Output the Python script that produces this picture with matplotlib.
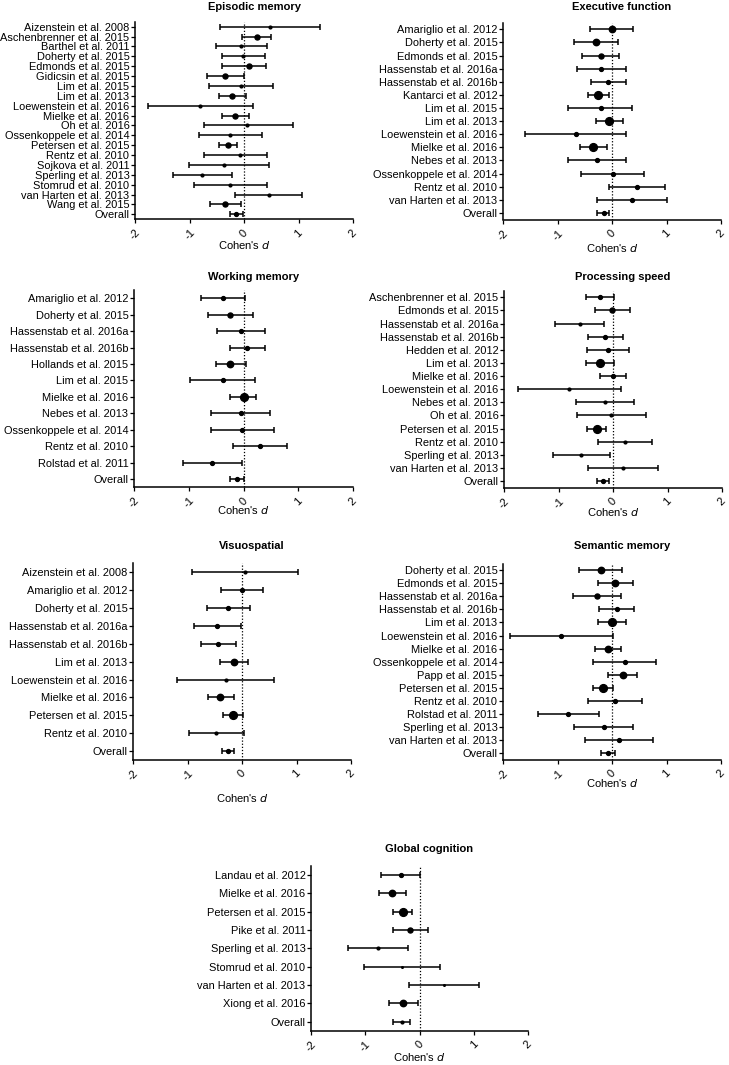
import numpy as np
import matplotlib
matplotlib.use("Agg")
import matplotlib.pyplot as plt

plt.rcParams['font.family'] = ['Liberation Sans', 'DejaVu Sans']

W, H = 729, 1065

# ---- data: (study, d, lower CI, upper CI, weight class) ----
epi_names = ['Aizenstein et al. 2008', 'Aschenbrenner et al. 2015', 'Barthel et al. 2011',
             'Doherty et al. 2015', 'Edmonds et al. 2015', 'Gidicsin et al. 2015',
             'Lim et al. 2015', 'Lim et al. 2013', 'Loewenstein et al. 2016',
             'Mielke et al. 2016', 'Oh et al. 2016', 'Ossenkoppele et al. 2014',
             'Petersen et al. 2015', 'Rentz et al. 2010', 'Sojkova et al. 2011',
             'Sperling et al. 2013', 'Stomrud et al. 2010', 'van Harten et al. 2013',
             'Wang et al. 2015', 'Overall']
epi_d = [0.47, 0.24, -0.05, -0.02, 0.09, -0.34, -0.05, -0.22, -0.81, -0.16,
         0.06, -0.26, -0.29, -0.07, -0.37, -0.77, -0.26, 0.46, -0.34, -0.14]
epi_lo = [-0.44, -0.04, -0.52, -0.41, -0.40, -0.68, -0.64, -0.46, -1.77, -0.40,
          -0.74, -0.83, -0.46, -0.74, -1.01, -1.31, -0.92, -0.16, -0.63, -0.26]
epi_hi = [1.40, 0.50, 0.43, 0.39, 0.41, 0.0, 0.54, 0.04, 0.16, 0.09,
          0.90, 0.33, -0.12, 0.43, 0.45, -0.22, 0.42, 1.07, -0.05, -0.02]
epi_w = [1, 3, 1, 1, 3, 3, 1, 3, 1, 3, 1, 1, 3, 1, 1, 1, 1, 1, 3, 2]

exe_names = ['Amariglio et al. 2012', 'Doherty et al. 2015', 'Edmonds et al. 2015',
             'Hassenstab et al. 2016a', 'Hassenstab et al. 2016b', 'Kantarci et al. 2012',
             'Lim et al. 2015', 'Lim et al. 2013', 'Loewenstein et al. 2016',
             'Mielke et al. 2016', 'Nebes et al. 2013', 'Ossenkoppele et al. 2014',
             'Rentz et al. 2010', 'van Harten et al. 2013', 'Overall']
exe_d = [0.0, -0.29, -0.21, -0.20, -0.07, -0.25, -0.21, -0.06, -0.66, -0.34,
         -0.27, 0.01, 0.45, 0.36, -0.15]
exe_lo = [-0.40, -0.70, -0.55, -0.64, -0.39, -0.44, -0.80, -0.30, -1.59, -0.59,
          -0.81, -0.56, -0.06, -0.28, -0.27]
exe_hi = [0.39, 0.11, 0.12, 0.25, 0.25, -0.06, 0.37, 0.20, 0.26, -0.10,
          0.26, 0.58, 0.97, 1.00, -0.06]
exe_w = [4, 4, 3, 2, 2, 5, 2, 5, 2, 5, 2, 2, 2, 2, 2]

wm_names = ['Amariglio et al. 2012', 'Doherty et al. 2015', 'Hassenstab et al. 2016a',
            'Hassenstab et al. 2016b', 'Hollands et al. 2015', 'Lim et al. 2015',
            'Mielke et al. 2016', 'Nebes et al. 2013', 'Ossenkoppele et al. 2014',
            'Rentz et al. 2010', 'Rolstad et al. 2011', 'Overall']
wm_d = [-0.37, -0.24, -0.04, 0.07, -0.24, -0.38, 0.0, -0.05, -0.02, 0.30, -0.57, -0.12]
wm_lo = [-0.77, -0.65, -0.48, -0.25, -0.51, -0.97, -0.24, -0.59, -0.60, -0.20, -1.11, -0.24]
wm_hi = [0.02, 0.18, 0.40, 0.40, 0.05, 0.21, 0.23, 0.49, 0.56, 0.80, -0.02, 0.01]
wm_w = [2, 3, 2, 2, 4, 2, 5, 2, 2, 2, 2, 2]

ps_names = ['Aschenbrenner et al. 2015', 'Edmonds et al. 2015', 'Hassenstab et al. 2016a',
            'Hassenstab et al. 2016b', 'Hedden et al. 2012', 'Lim et al. 2013',
            'Mielke et al. 2016', 'Loewenstein et al. 2016', 'Nebes et al. 2013',
            'Oh et al. 2016', 'Petersen et al. 2015', 'Rentz et al. 2010',
            'Sperling et al. 2013', 'van Harten et al. 2013', 'Overall']
ps_d = [-0.24, -0.01, -0.61, -0.14, -0.09, -0.23, 0.0, -0.80, -0.15, -0.03,
        -0.30, 0.22, -0.58, 0.19, -0.18]
ps_lo = [-0.49, -0.33, -1.07, -0.46, -0.47, -0.49, -0.24, -1.75, -0.67, -0.66,
         -0.47, -0.28, -1.11, -0.46, -0.29]
ps_hi = [0.02, 0.31, -0.16, 0.19, 0.30, 0.02, 0.23, 0.14, 0.39, 0.60,
         -0.12, 0.72, -0.05, 0.82, -0.08]
ps_w = [2, 3, 1, 2, 2, 5, 2, 1, 1, 1, 5, 1, 1, 1, 2]

vs_names = ['Aizenstein et al. 2008', 'Amariglio et al. 2012', 'Doherty et al. 2015',
            'Hassenstab et al. 2016a', 'Hassenstab et al. 2016b', 'Lim et al. 2013',
            'Loewenstein et al. 2016', 'Mielke et al. 2016', 'Petersen et al. 2015',
            'Rentz et al. 2010', 'Overall']
vs_d = [0.06, 0.0, -0.25, -0.45, -0.44, -0.14, -0.30, -0.40, -0.16, -0.48, -0.25]
vs_lo = [-0.91, -0.39, -0.65, -0.88, -0.76, -0.41, -1.19, -0.62, -0.35, -0.98, -0.36]
vs_hi = [1.02, 0.39, 0.14, -0.01, -0.11, 0.11, 0.58, -0.15, 0.02, 0.03, -0.14]
vs_w = [1, 2, 2, 2, 2, 4, 1, 4, 5, 1, 2]

sm_names = ['Doherty et al. 2015', 'Edmonds et al. 2015', 'Hassenstab et al. 2016a',
            'Hassenstab et al. 2016b', 'Lim et al. 2013', 'Loewenstein et al. 2016',
            'Mielke et al. 2016', 'Ossenkoppele et al. 2014', 'Papp et al. 2015',
            'Petersen et al. 2015', 'Rentz et al. 2010', 'Rolstad et al. 2011',
            'Sperling et al. 2013', 'van Harten et al. 2013', 'Overall']
sm_d = [-0.21, 0.06, -0.28, 0.09, 0.0, -0.93, -0.07, 0.23, 0.20, -0.17,
        0.05, -0.80, -0.15, 0.13, -0.07]
sm_lo = [-0.61, -0.26, -0.72, -0.23, -0.26, -1.88, -0.31, -0.35, -0.08, -0.35,
         -0.44, -1.35, -0.69, -0.49, -0.20]
sm_hi = [0.18, 0.39, 0.17, 0.40, 0.26, 0.01, 0.17, 0.80, 0.46, 0.01,
         0.55, -0.24, 0.38, 0.76, 0.05]
sm_w = [4, 4, 3, 2, 5, 2, 4, 2, 4, 5, 2, 2, 2, 2, 2]

gc_names = ['Landau et al. 2012', 'Mielke et al. 2016', 'Petersen et al. 2015',
            'Pike et al. 2011', 'Sperling et al. 2013', 'Stomrud et al. 2010',
            'van Harten et al. 2013', 'Xiong et al. 2016', 'Overall']
gc_d = [-0.35, -0.50, -0.30, -0.17, -0.77, -0.33, 0.46, -0.31, -0.33]
gc_lo = [-0.71, -0.74, -0.48, -0.48, -1.31, -1.02, -0.19, -0.57, -0.48]
gc_hi = [0.01, -0.25, -0.13, 0.15, -0.22, 0.37, 1.09, -0.02, -0.17]
gc_w = [2, 4, 5, 3, 1, 0, 0, 4, 1]

xticks = [-2, -1, 0, 1, 2]
xtick_labels = ['-2', '-1', '0', '1', '2']

# marker diameter (pt) for each weight class
msize = {0: 1.2, 1: 2.0, 2: 2.8, 3: 3.6, 4: 4.6, 5: 5.6}

fig = plt.figure(figsize=(W / 100, H / 100), dpi=100)


def panel(title, names, d, lo, hi, w, box, title_y, label_y):
    x0, x1, y0, y1 = box  # pixel box: left, right, top, bottom
    ax = fig.add_axes([x0 / W, 1 - y1 / H, (x1 - x0) / W, (y1 - y0) / H])
    n = len(names)
    ypos = np.arange(n)
    d = np.array(d); lo = np.array(lo); hi = np.array(hi)
    ax.axvline(0, color='black', lw=0.9, ls=(0, (1, 1.5)), zorder=1)
    ax.errorbar(d, ypos, xerr=[d - lo, hi - d], fmt='none', ecolor='black',
                elinewidth=1.1, capsize=2.2, capthick=1.1, zorder=2)
    for yi, di, wi in zip(ypos, d, w):
        ax.plot(di, yi, 'o', color='black', ms=msize[wi], zorder=3)
    ax.set_ylim(n - 0.5, -0.5)
    ax.set_xlim(-2, 2)
    ax.set_yticks(ypos)
    ax.set_yticklabels(names, fontsize=7.9)
    ax.set_xticks(xticks)
    ax.set_xticklabels(xtick_labels, rotation=45, fontsize=8, ha='center')
    ax.tick_params(axis='both', direction='out', length=3, width=0.9, pad=1.0)
    ax.tick_params(axis='x', pad=3)
    for s in ['top', 'right']:
        ax.spines[s].set_visible(False)
    for s in ['left', 'bottom']:
        ax.spines[s].set_linewidth(1.1)
    fig.text((x0 + x1) / 2 / W + 10 / W, 1 - title_y / H, title, fontsize=8,
             fontweight='bold', ha='center', va='center')
    fig.text((x0 + x1) / 2 / W, 1 - label_y / H, "Cohen's $\\it{d}$", fontsize=8,
             ha='center', va='center')
    return ax


panel('Episodic memory', epi_names, epi_d, epi_lo, epi_hi, epi_w,
      (135, 353, 21.8, 219.2), 7, 245)
panel('Executive function', exe_names, exe_d, exe_lo, exe_hi, exe_w,
      (503, 721, 22.8, 219.5), 7, 248)
panel('Working memory', wm_names, wm_d, wm_lo, wm_hi, wm_w,
      (134, 353, 290.1, 487.2), 277, 510)
panel('Processing speed', ps_names, ps_d, ps_lo, ps_hi, ps_w,
      (504, 722, 290.7, 487.6), 277, 512)
panel('Visuospatial', vs_names, vs_d, vs_lo, vs_hi, vs_w,
      (133, 351, 563.4, 759.9), 546, 798)
panel('Semantic memory', sm_names, sm_d, sm_lo, sm_hi, sm_w,
      (503, 721, 563.5, 759.9), 546, 783)
panel('Global cognition', gc_names, gc_d, gc_lo, gc_hi, gc_w,
      (311, 528, 865.8, 1030.8), 849, 1057)

fig.savefig('out.png', dpi=100)
